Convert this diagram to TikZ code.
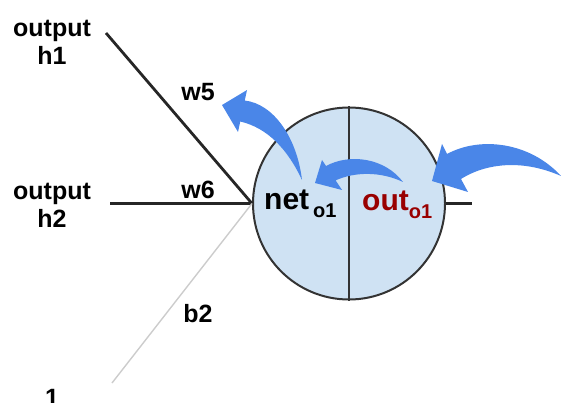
\documentclass[tikz,border=0pt]{standalone}
\usepackage{fontspec}
\setmainfont{Liberation Sans}
\definecolor{arrowblue}{HTML}{4A86E8}
\definecolor{cellblue}{HTML}{CFE2F3}
\definecolor{outred}{HTML}{990000}
\begin{document}
\begin{tikzpicture}[x=1pt,y=-1pt,
  lbl/.style={font=\fontsize{25}{28}\selectfont\bfseries, inner sep=0pt, align=center},
  wire/.style={line width=2.8pt, draw=black!85},
  biaswire/.style={line width=1.4pt, draw=black!20},
  cell/.style={circle, draw=black!80, line width=2pt, fill=cellblue, minimum size=192pt, inner sep=0pt},
  flow/.style={fill=arrowblue, draw=none}]
\useasboundingbox (0,0) rectangle (561,403);

% output neuron, split into net / out halves
\node[cell] (neuron) at (349,203.5) {};

% input labels and wire ends
\node[lbl] (h1) at (52,42) {output\\h1};
\node[lbl] (h2) at (52,205) {output\\h2};
\node[lbl, anchor=base] (one) at (52,406) {1};
\coordinate (h1end) at (106,33);
\coordinate (h2end) at (110,203.5);
\coordinate (oneend) at (112,383);
\coordinate (outend) at (472,203.5);

% weighted inputs
\draw[wire] (h1end) -- (neuron.west);
\draw[wire] (h2end) -- (neuron.west);
\draw[biaswire] (oneend) -- (neuron.west);
\draw[wire] (neuron.east) -- (outend);
\draw[line width=2pt, draw=black!80] (neuron.north) -- (neuron.south);

% weight labels
\node[lbl, anchor=base] (w5) at (198,101) {w5};
\node[lbl, anchor=base] (w6) at (198,199) {w6};
\node[lbl, anchor=base] (b2) at (198,322) {b2};

% net and out inside the neuron
\node[inner sep=0pt, anchor=base west] (net) at (264,209)
  {\bfseries\fontsize{30}{30}\selectfont net\hspace{4pt}\raisebox{-8pt}{\fontsize{20}{20}\selectfont o1}};
\node[inner sep=0pt, anchor=base west, text=outred] (out) at (362,210)
  {\bfseries\fontsize{30}{30}\selectfont out\raisebox{-8pt}{\fontsize{20}{20}\selectfont o1}};

% backward flow arrows
\fill[flow] (432,181) -- (442,144) -- (447,154)
  .. controls (480,136) and (530,142) .. (561,176)
  .. controls (525,160) and (488,162) .. (461,179)
  -- (468,192) -- cycle;
\fill[flow] (315,183) -- (322,160) -- (326,166)
  .. controls (350,153) and (385,158) .. (403,182)
  .. controls (380,171) and (354,172) .. (335.6,180.4)
  -- (342,190) -- cycle;
\fill[flow] (222,105) -- (247,90) -- (244.75,100.5)
  .. controls (274,104) and (297,138) .. (302,180)
  .. controls (288,150) and (268,128) .. (240.25,121.5)
  -- (238,132) -- cycle;
\end{tikzpicture}
\end{document}
